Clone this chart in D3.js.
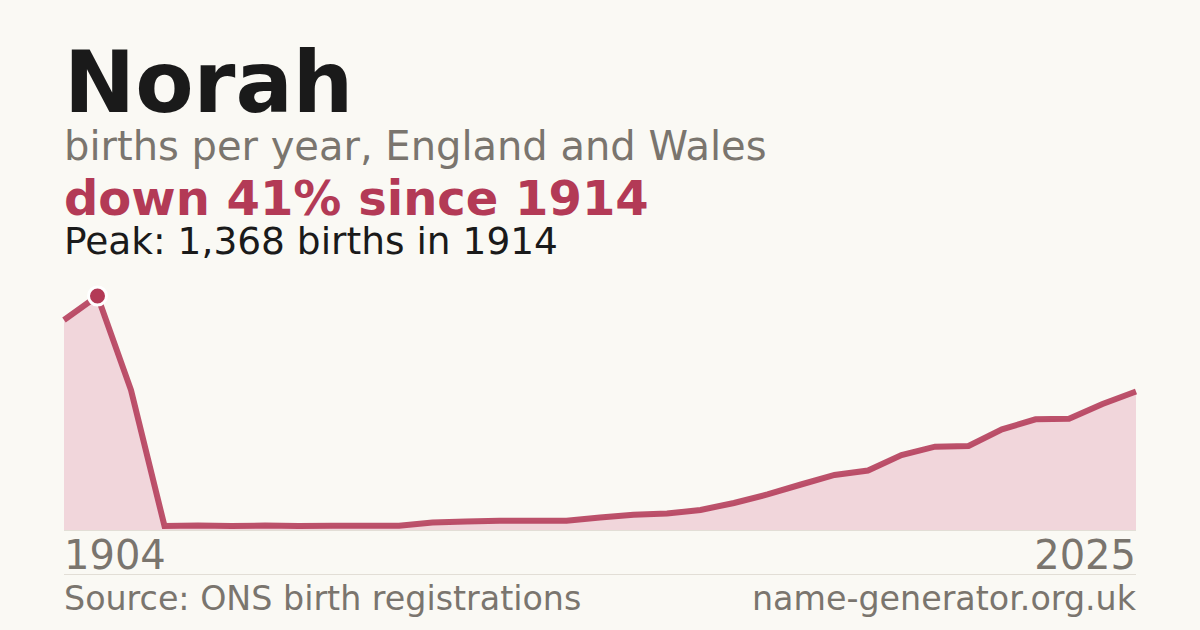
<!DOCTYPE html>
<html>
<head>
<meta charset="utf-8">
<script src="https://cdn.jsdelivr.net/npm/d3@7"></script>
<style>
  html, body { margin: 0; padding: 0; background: #faf9f4; }
  svg { display: block; font-family: "DejaVu Sans", Verdana, sans-serif; }
</style>
</head>
<body>
<svg id="chart" width="1200" height="630"></svg>
<script>
const years = [1904, 1914, 1924, 1934, 1944, 1954, 1964, 1974, 1984, 1994,
  2003, 2004, 2005, 2006, 2007, 2008, 2009, 2010, 2011, 2012, 2013, 2014,
  2015, 2016, 2017, 2018, 2019, 2020, 2021, 2022, 2023, 2024, 2025];
const births = [1228, 1368, 818, 23, 26, 23, 26, 23, 25, 25,
  25, 44, 50, 54, 54, 54, 73, 89, 96, 117, 158, 208,
  266, 322, 348, 438, 487, 491, 589, 647, 651, 737, 810];

const title = "Norah";
const subtitle = "births per year, England and Wales";
const change = "down 41% since 1914";
const peakNote = "Peak: 1,368 births in 1914";
const source = "Source: ONS birth registrations";
const site = "name-generator.org.uk";

const margin = { left: 64, right: 64 };
const width = 1200;
const plotTop = 296, plotBottom = 530;

const data = years.map((y, i) => ({ year: y, value: births[i] }));
const peak = data.reduce((a, b) => (b.value > a.value ? b : a));

const svg = d3.select("#chart");

const x = d3.scalePoint()
  .domain(years)
  .range([margin.left, width - margin.right]);

const y = d3.scaleLinear()
  .domain([0, peak.value])
  .range([plotBottom, plotTop]);

// header text
svg.append("text")
  .attr("x", 64).attr("y", 112)
  .attr("font-size", 85).attr("font-weight", "bold")
  .attr("fill", "#1a1a1a")
  .text(title);

svg.append("text")
  .attr("x", 64).attr("y", 160)
  .attr("font-size", 40)
  .attr("fill", "#7a756e")
  .text(subtitle);

svg.append("text")
  .attr("x", 64).attr("y", 215)
  .attr("font-size", 48).attr("font-weight", "bold")
  .attr("fill", "#b33a56")
  .text(change);

svg.append("text")
  .attr("x", 64).attr("y", 254)
  .attr("font-size", 37.5)
  .attr("fill", "#1a1a1a")
  .text(peakNote);

// area + line
const area = d3.area()
  .x(d => x(d.year))
  .y0(plotBottom)
  .y1(d => y(d.value));

const line = d3.line()
  .x(d => x(d.year))
  .y(d => y(d.value));

svg.append("path")
  .datum(data)
  .attr("d", area)
  .attr("fill", "#f1d6db");

svg.append("line")
  .attr("x1", margin.left).attr("x2", width - margin.right)
  .attr("y1", plotBottom + 0.5).attr("y2", plotBottom + 0.5)
  .attr("stroke", "#e2ded6").attr("stroke-width", 1);

svg.append("path")
  .datum(data)
  .attr("d", line)
  .attr("fill", "none")
  .attr("stroke", "#b33a58")
  .attr("stroke-opacity", 0.88)
  .attr("stroke-width", 6);

svg.append("circle")
  .attr("cx", x(peak.year))
  .attr("cy", y(peak.value))
  .attr("r", 9)
  .attr("fill", "#b33a56")
  .attr("stroke", "#ffffff")
  .attr("stroke-width", 3);

// x labels: first and last year
svg.append("text")
  .attr("x", margin.left).attr("y", 569)
  .attr("font-size", 40)
  .attr("fill", "#7a756e")
  .text(years[0]);

svg.append("text")
  .attr("x", width - margin.right).attr("y", 569)
  .attr("text-anchor", "end")
  .attr("font-size", 40)
  .attr("fill", "#7a756e")
  .text(years[years.length - 1]);

svg.append("line")
  .attr("x1", margin.left).attr("x2", width - margin.right)
  .attr("y1", 574.5).attr("y2", 574.5)
  .attr("stroke", "#e2ded6").attr("stroke-width", 1);

// footer
svg.append("text")
  .attr("x", margin.left).attr("y", 610)
  .attr("font-size", 33.3)
  .attr("fill", "#7a756e")
  .text(source);

svg.append("text")
  .attr("x", width - margin.right).attr("y", 610)
  .attr("text-anchor", "end")
  .attr("font-size", 33.3)
  .attr("fill", "#7a756e")
  .text(site);
</script>
</body>
</html>
